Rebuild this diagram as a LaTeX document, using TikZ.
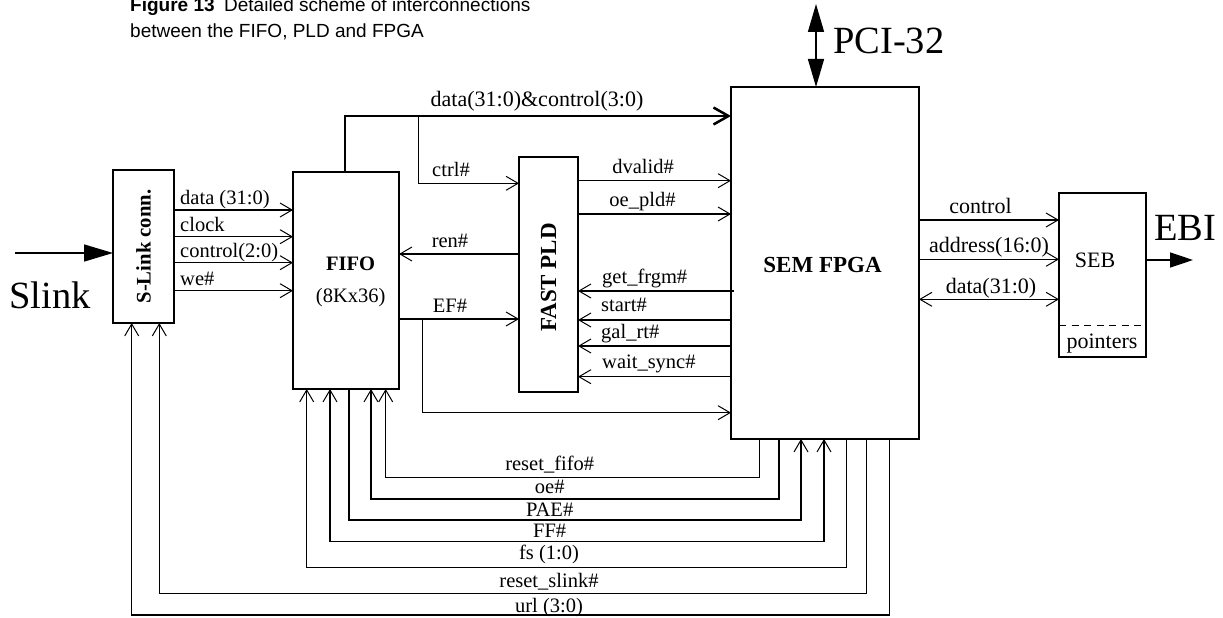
\documentclass[tikz,border=0pt]{standalone}
\usepackage{fontspec}
\setmainfont{Liberation Serif}
\newfontfamily\sansfam{Liberation Sans}
\usetikzlibrary{arrows.meta}
\newcommand{\fsz}[1]{\fontsize{#1}{#1}\selectfont}
\begin{document}
\begin{tikzpicture}[x=1pt,y=-1pt,
  box/.style={draw,line width=1.5pt,inner sep=0pt,outer sep=0pt},
  sig/.style={line width=1.3pt},
  barb/.tip={Straight Barb[length=12pt,width=14pt,line width=1pt]},
  tipend/.style={-{barb}},
  tipboth/.style={{barb}-{barb}},
  lab/.style={inner sep=0pt,font=\fsz{20.5}},
  rlab/.style={inner sep=0pt,font=\fsz{22}},
  big/.style={inner sep=0pt,font=\fsz{38.5},anchor=base west},
  bigtri/.tip={Triangle[length=29pt,width=17pt]}
]
\useasboundingbox (0,0) rectangle (1223,618);

% title
\node[inner sep=0pt,font=\sansfam\fsz{19},anchor=base west] (t1) at (130,12) {\textbf{Figure 13}\enspace Detailed scheme of interconnections};
\node[inner sep=0pt,font=\sansfam\fsz{19},anchor=base west] (t2) at (130,37.5) {between the FIFO, PLD and FPGA};

% boxes
\node[box,minimum width=61pt,minimum height=153pt] (slink) at (143.5,246.5) {};
\node[rotate=90,inner sep=0pt,font=\fsz{20.7}\bfseries] (slinkt) at (slink) {S-Link conn.};
\node[box,minimum width=106pt,minimum height=217pt] (fifo) at (346,280.5) {};
\node[lab,font=\fsz{20.5}\bfseries,anchor=base] (fifot) at (350.7,270) {FIFO};
\node[lab,anchor=base] (fifos) at (350.7,302) {(8Kx36)};
\node[box,minimum width=59pt,minimum height=235pt] (pld) at (548.5,274.5) {};
\node[rotate=90,inner sep=0pt,font=\fsz{23}\bfseries] (pldt) at (548.5,277.5) {FAST PLD};
\node[box,minimum width=188pt,minimum height=352pt] (fpga) at (825,263) {};
\node[inner sep=0pt,font=\fsz{23}\bfseries,anchor=base] (fpgat) at (822.5,272) {SEM FPGA};
\node[box,minimum width=87pt,minimum height=164pt] (seb) at (1102.5,275) {};
\node[rlab,anchor=base] (sebt) at (1095,267.3) {SEB};
\node[rlab,anchor=base] (ptr) at (1102,348) {pointers};
\draw[line width=1.3pt,dash pattern=on 7pt off 5.5pt] (seb.west |- 0,325.7) -- (seb.east |- 0,325.7);

% big labels and external arrows
\node[big] (slinklab) at (9,308) {Slink};
\node[big] (pcilab) at (833,53.3) {PCI-32};
\node[big] (ebilab) at (1154,240.7) {EBI};
\coordinate (slinkin) at (15,253);
\draw[line width=1.5pt,-{bigtri}] (slinkin) -- (slink.west |- slinkin);
\coordinate (pcitop) at (816,4);
\draw[line width=1.5pt,{Triangle[length=28pt,width=16pt]}-{Triangle[length=28pt,width=16pt]}] (pcitop) -- (pcitop |- fpga.north);
\coordinate (ebiend) at (1193,260);
\draw[line width=1.5pt,-{Triangle[length=23pt,width=15pt]}] (seb.east |- ebiend) -- (ebiend);

% S-Link -> FIFO
\foreach \yy/\tx in {210/data (31:0), 236.7/clock, 262.7/control(2:0), 290.7/we\#}{
  \draw[sig,tipend] (slink.east |- 0,\yy) -- (fifo.west |- 0,\yy);
  \node[lab,anchor=base west] at (180,\yy-5.5) {\tx};
}

% data bus
\coordinate (busstart) at (345,172);
\coordinate (busend) at (731,116);
\draw[line width=2.5pt,-{Straight Barb[length=15pt,width=17pt]}] (busstart) |- (fpga.west |- busend);
\node[lab,font=\fsz{22},anchor=base] (buslab) at (537,106.5) {data(31:0)\&control(3:0)};

% ctrl#
\coordinate (ctrlbr) at (418.7,116);
\draw[sig,tipend] (ctrlbr) |- (pld.west |- 0,183.3);
\node[lab,anchor=base] at (451,176.5) {ctrl\#};

% PLD -> FPGA
\draw[sig,tipend] (pld.east |- 0,180.7) -- (fpga.west |- 0,180.7);
\node[lab,anchor=base] at (643,173.5) {dvalid\#};
\draw[sig,tipend] (pld.east |- 0,214) -- (fpga.west |- 0,214);
\node[lab,anchor=base] at (642.5,206.5) {oe\_pld\#};

% ren#, EF#
\draw[sig,tipend] (pld.west |- 0,254) -- (fifo.east |- 0,254);
\node[lab,anchor=base] at (450,247) {ren\#};
\draw[sig,tipend] (fifo.east |- 0,319) -- (pld.west |- 0,319);
\node[lab,anchor=base] at (450,312.7) {EF\#};
\coordinate (efbr) at (422.3,319);
\draw[sig,tipend] (efbr) |- (fpga.west |- 0,412.7);

% FPGA -> PLD
\draw[sig,tipend] ([xshift=3pt]fpga.west |- 0,291) -- (pld.east |- 0,291);
\node[lab,anchor=base west] at (602,283) {get\_frgm\#};
\draw[sig,tipend] (fpga.west |- 0,320) -- (pld.east |- 0,320);
\node[lab,anchor=base west] at (601,311) {start\#};
\draw[sig,tipend] (fpga.west |- 0,346) -- (pld.east |- 0,346);
\node[lab,anchor=base west] at (601,338.3) {gal\_rt\#};
\draw[sig,tipend] (fpga.west |- 0,376.7) -- (pld.east |- 0,376.7);
\node[lab,anchor=base west] at (602,368.3) {wait\_sync\#};

% FPGA -> SEB
\draw[sig,tipend] (fpga.east |- 0,220) -- (seb.west |- 0,220);
\node[rlab,anchor=base] at (980.5,213.3) {control};
\draw[sig,tipend] (fpga.east |- 0,259.3) -- (seb.west |- 0,259.3);
\node[rlab,anchor=base] at (989,252.7) {address(16:0)};
\draw[sig,tipboth] (fpga.east |- 0,299.3) -- (seb.west |- 0,299.3);
\node[rlab,anchor=base] at (991,293.3) {data(31:0)};

% bottom control lines
\coordinate (rf) at (385.7,477.7);
\draw[sig,tipend] (fpga.south -| 759.3,0) |- (rf) -- (fifo.south -| rf);
\node[lab,anchor=base] at (549.7,470.5) {reset\_fifo\#};
\coordinate (oe) at (371,499);
\draw[sig,tipend] (fpga.south -| 779,0) |- (oe) -- (fifo.south -| oe);
\node[lab,anchor=base] at (549.7,493) {oe\#};
\coordinate (pae) at (349,520);
\draw[sig,{barb}-] (fpga.south -| 801,0) |- (pae) -- (fifo.south -| pae);
\node[lab,anchor=base] at (549.7,516) {PAE\#};
\coordinate (ff) at (330,541.7);
\draw[sig,tipboth] (fpga.south -| 824,0) |- (ff) -- (fifo.south -| ff);
\node[lab,anchor=base] at (549.7,537) {FF\#};
\coordinate (fsc) at (306.7,567.3);
\draw[sig,tipend] (fpga.south -| 846.7,0) |- (fsc) -- (fifo.south -| fsc);
\node[lab,anchor=base] at (549,559.5) {fs (1:0)};
\coordinate (rs) at (159.3,593.3);
\draw[sig,tipend] (fpga.south -| 866.7,0) |- (rs) -- (slink.south -| rs);
\node[lab,anchor=base] at (549,587) {reset\_slink\#};
\coordinate (url) at (131.7,615);
\draw[sig,tipend] (fpga.south -| 889.3,0) |- (url) -- (slink.south -| url);
\node[lab,anchor=base] at (549,612.5) {url (3:0)};
\end{tikzpicture}
\end{document}
